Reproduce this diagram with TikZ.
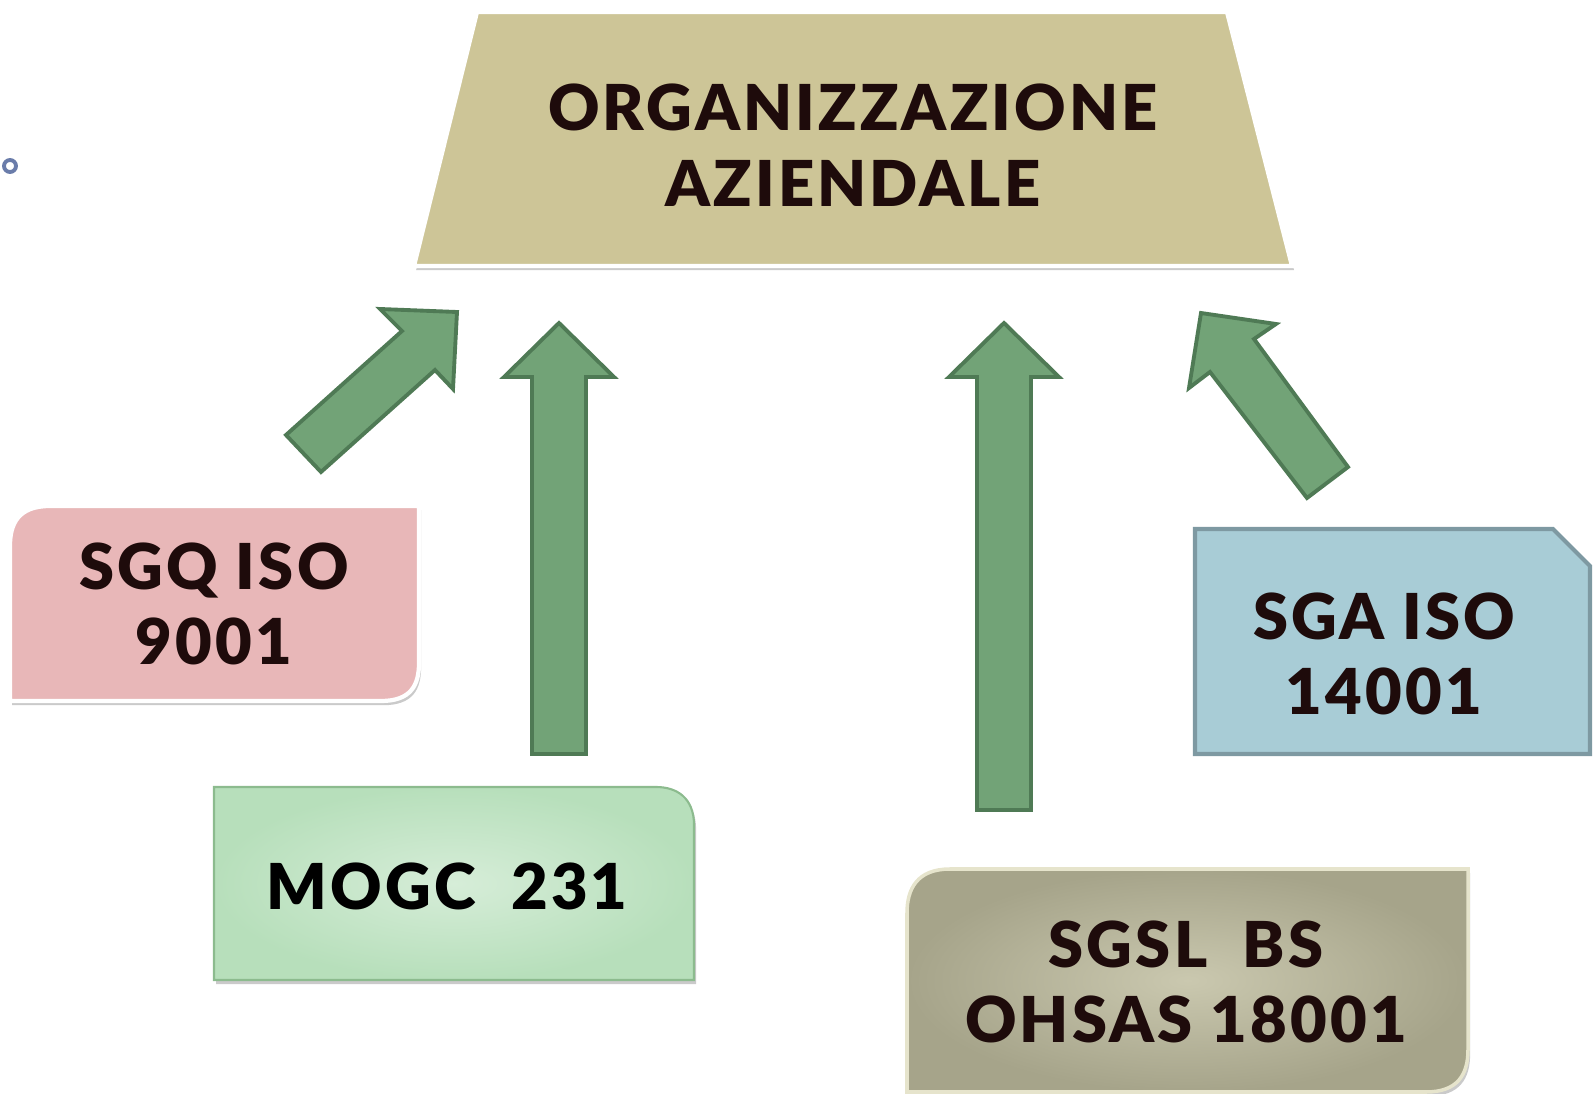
\documentclass[tikz,border=0pt]{standalone}
\usepackage{fontspec}
\setmainfont{Lato}
\newfontfamily\heavyfont[LetterSpace=5]{Lato Black}
\usepackage{xcolor}
\usetikzlibrary{shadows}

\definecolor{titlefill}{HTML}{CDC597}
\definecolor{inkbrown}{HTML}{1E0B0B}
\definecolor{arrowfill}{HTML}{72A377}
\definecolor{arrowline}{HTML}{4F7A55}
\definecolor{sgqfill}{HTML}{E8B7B8}
\definecolor{mogcin}{HTML}{D6EDD8}
\definecolor{mogcout}{HTML}{B7DFBB}
\definecolor{mogcline}{HTML}{8CBB8E}
\definecolor{sgafill}{HTML}{A8CCD6}
\definecolor{sgaline}{HTML}{7E99A2}
\definecolor{sgslin}{HTML}{CAC8AF}
\definecolor{sgslout}{HTML}{A6A48A}
\definecolor{sgslline}{HTML}{E6E4CC}
\definecolor{bulletblue}{HTML}{6A7CAA}

\begin{document}
\begin{tikzpicture}[
        x=0.01cm, y=-0.01cm,
        boxtext/.style={font=\heavyfont\fontsize{18}{21.5}\selectfont,text=inkbrown,align=center},
        softshadow/.style={drop shadow={shadow xshift=0.6pt,shadow yshift=-1.2pt,opacity=0.35,fill=black!60}},
        bigarrow/.style={fill=arrowfill,draw=arrowline,line width=1.1pt,line join=miter}
    ]
        \useasboundingbox (0,0) rectangle (1593,1094);

        % bullet
        \draw[bulletblue,line width=1.1pt] (10,166) circle (6);

        % title
        \draw[fill=titlefill,draw=white,line width=1.2pt,softshadow] (477,12) -- (1227,12) -- (1292,266) -- (414,266) -- cycle;
        \node[boxtext] (title) at (853,145) {ORGANIZZAZIONE\\AZIENDALE};

        % boxes
        \draw[fill=sgqfill,draw=white,line width=1.2pt,softshadow] (10,701) -- (10,546) .. controls (10,524) and (18,506) .. (50,506) -- (419,506) -- (419,663) .. controls (419,685) and (411,701) .. (381,701) -- cycle;
        \node[boxtext] (sgq) at (214,604) {SGQ ISO\\9001};

        \draw[inner color=mogcin,outer color=mogcout,draw=mogcline,line width=0.6pt,softshadow] (214,980) -- (214,787) -- (656,787) .. controls (677,787) and (694,798) .. (694,825) -- (694,980) -- cycle;
        \node[boxtext,text=black] (mogc) at (447,886) {MOGC\ \ 231};

        \draw[fill=sgafill,draw=sgaline,line width=1.2pt] (1195,754) -- (1195,529) -- (1553,529) -- (1590,566) -- (1590,754) -- cycle;
        \node[boxtext] (sga) at (1384,654) {SGA ISO\\14001};

        \draw[inner color=sgslin,outer color=sgslout,draw=sgslline,line width=1pt,softshadow] (907,1092) -- (907,913) .. controls (907,889) and (917,869) .. (950,869) -- (1468,869) -- (1468,1050) .. controls (1468,1074) and (1458,1092) .. (1426,1092) -- cycle;
        \node[boxtext] (sgsl) at (1186,982) {SGSL\ \ BS\\OHSAS 18001};

        % block arrows
        \draw[bigarrow] (286,435) -- (402,331) -- (380,309) -- (457,312) -- (453,389) -- (435,370) -- (321,472) -- cycle;
        \foreach \cx/\by in {559/754, 1004/810}
            \draw[bigarrow] (\cx-27,\by) -- (\cx-27,377) -- (\cx-55,377) -- (\cx,323) -- (\cx+55,377) -- (\cx+27,377) -- (\cx+27,\by) -- cycle;
        \draw[bigarrow] (1201,313) -- (1276,324) -- (1254,339) -- (1348,467) -- (1307,498) -- (1210,372) -- (1189,388) -- cycle;
    \end{tikzpicture}
\end{document}
